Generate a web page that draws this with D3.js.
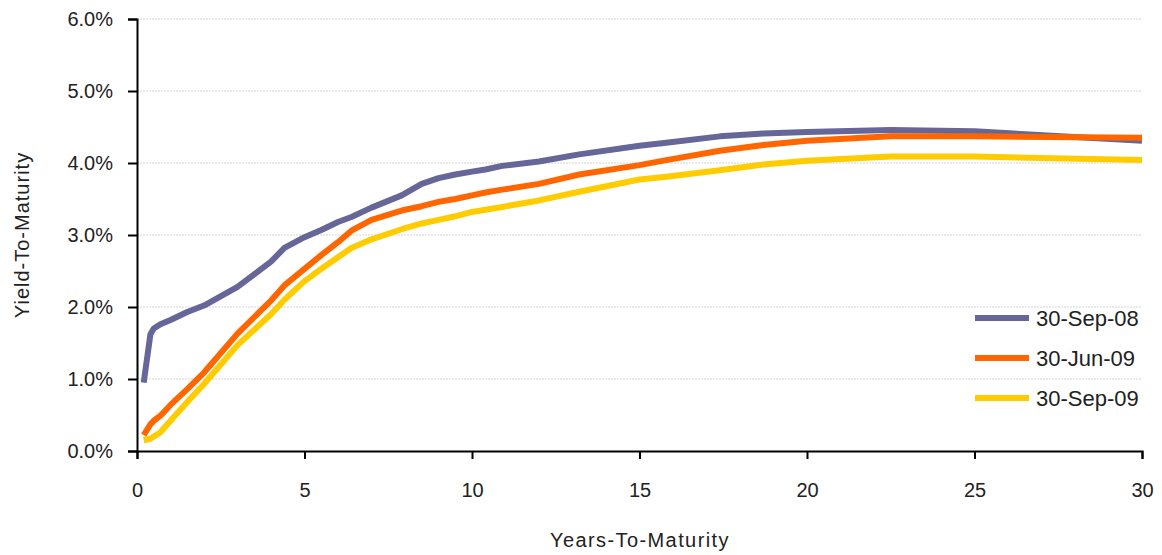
<!DOCTYPE html>
<html>
<head>
<meta charset="utf-8">
<script src="https://cdn.jsdelivr.net/npm/d3@7"></script>
<style>
  body { margin: 0; background: #fff; }
  svg text { font-family: "Liberation Sans", Arial, sans-serif; fill: #222; }
</style>
</head>
<body>
<svg id="chart" width="1162" height="555"></svg>
<script>
// maturity (years) for each reading
var years = [0.2, 0.4, 0.5, 0.7, 1, 1.5, 2, 3, 4, 4.4, 5, 5.5, 6, 6.4, 7, 7.9, 8.5, 9, 9.5, 10, 10.4, 10.9, 12, 13.2, 15, 15.8, 17.4, 18.7, 20, 22.5, 25, 30];

// yields in percent
var sep08 = [0.95, 1.62, 1.70, 1.76, 1.82, 1.93, 2.02, 2.28, 2.63, 2.82, 2.97, 3.07, 3.18, 3.25, 3.38, 3.55, 3.71, 3.79, 3.84, 3.88, 3.91, 3.96, 4.02, 4.12, 4.24, 4.28, 4.37, 4.41, 4.43, 4.46, 4.44, 4.31];
var jun09 = [0.22, 0.37, 0.42, 0.49, 0.64, 0.86, 1.09, 1.63, 2.09, 2.30, 2.53, 2.72, 2.90, 3.06, 3.21, 3.34, 3.40, 3.46, 3.50, 3.55, 3.59, 3.63, 3.71, 3.84, 3.97, 4.04, 4.17, 4.25, 4.31, 4.37, 4.37, 4.35];
var sep09 = [0.15, 0.17, 0.20, 0.26, 0.42, 0.68, 0.93, 1.47, 1.90, 2.10, 2.36, 2.53, 2.69, 2.82, 2.94, 3.08, 3.16, 3.21, 3.26, 3.32, 3.35, 3.39, 3.48, 3.60, 3.77, 3.81, 3.90, 3.98, 4.03, 4.09, 4.09, 4.04];

var seriesNames = ["30-Sep-08", "30-Jun-09", "30-Sep-09"];
var seriesColors = ["#666699", "#FF6600", "#FFCC00"];
var yTicks = [0, 1, 2, 3, 4, 5, 6];
var xTicks = [0, 5, 10, 15, 20, 25, 30];

var svg = d3.select("#chart");
var x = d3.scaleLinear().domain([0, 30]).range([137, 1142]);
var y = d3.scaleLinear().domain([0, 6]).range([451, 19]);

// gridlines
svg.append("g").selectAll("line")
  .data(yTicks.filter(d => d > 0))
  .enter().append("line")
  .attr("x1", x(0)).attr("x2", x(30))
  .attr("y1", d => y(d)).attr("y2", d => y(d))
  .attr("stroke", "#d4d4d4")
  .attr("stroke-dasharray", "2,1");

// y axis
var yAxis = svg.append("g")
  .attr("transform", "translate(" + x(0) + ",0)")
  .call(d3.axisLeft(y).tickValues(yTicks).tickSize(9).tickPadding(15)
        .tickFormat(d => d.toFixed(1) + "%"));
yAxis.selectAll("text").style("font-size", "20px");

// x axis
var xAxis = svg.append("g")
  .attr("transform", "translate(0," + y(0) + ")")
  .call(d3.axisBottom(x).tickValues(xTicks).tickSize(8).tickPadding(24)
        .tickFormat(d3.format("d")));
xAxis.selectAll("text").style("font-size", "20px");

svg.selectAll(".domain, .tick line").attr("stroke", "#000").attr("stroke-width", 2);

// series lines
var line = d3.line()
  .x((d, i) => x(years[i]))
  .y(d => y(d));

[sep08, jun09, sep09].forEach(function (vals, k) {
  svg.append("path")
    .datum(vals)
    .attr("d", line)
    .attr("fill", "none")
    .attr("stroke", seriesColors[k])
    .attr("stroke-width", 6)
    .attr("stroke-linejoin", "round");
});

// legend
var legend = svg.append("g").selectAll("g")
  .data(seriesNames)
  .enter().append("g")
  .attr("transform", (d, i) => "translate(975," + (318 + i * 40) + ")");
legend.append("line")
  .attr("x1", 0).attr("x2", 54)
  .attr("stroke", (d, i) => seriesColors[i])
  .attr("stroke-width", 6);
legend.append("text")
  .attr("x", 61).attr("y", 8)
  .style("font-size", "22px")
  .text(d => d);

// axis titles
svg.append("text")
  .attr("x", 640).attr("y", 547)
  .attr("text-anchor", "middle")
  .style("font-size", "20px")
  .style("letter-spacing", "1.4px")
  .text("Years-To-Maturity");

svg.append("text")
  .attr("transform", "translate(29,235) rotate(-90)")
  .attr("text-anchor", "middle")
  .style("font-size", "20px")
  .style("letter-spacing", "1px")
  .text("Yield-To-Maturity");
</script>
</body>
</html>
